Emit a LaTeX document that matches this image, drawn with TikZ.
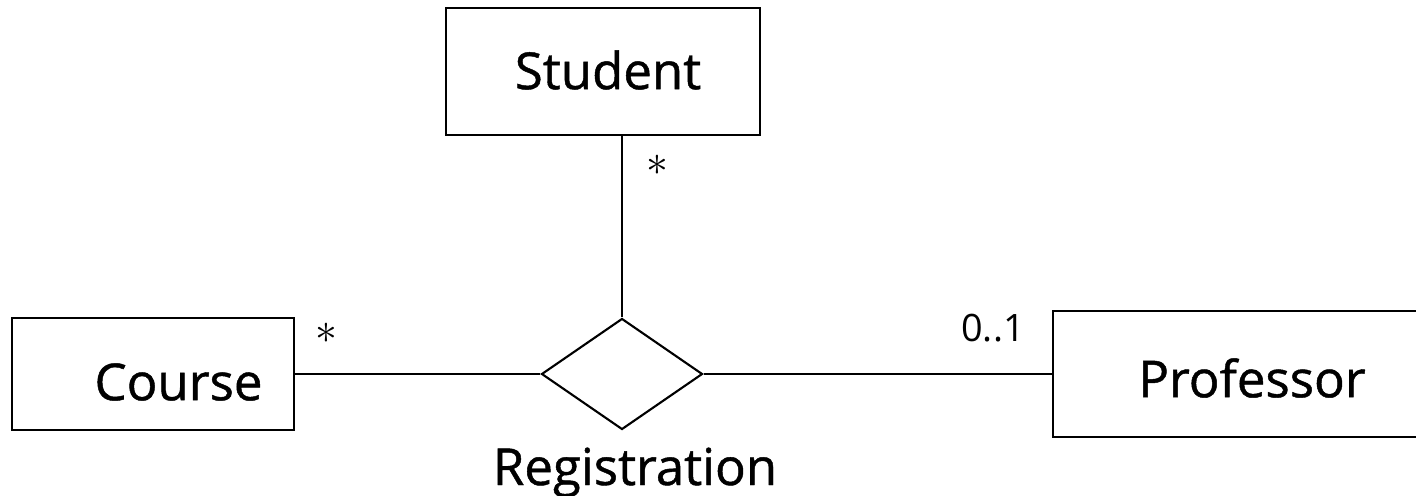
\documentclass[tikz,border=0pt]{standalone}
\usepackage{fontspec}
\setmainfont{Open Sans}
\newfontfamily\heavyfont{Open Sans}[FakeBold=0.9]
\usetikzlibrary{shapes.geometric}

\begin{document}
\begin{tikzpicture}
\tikzstyle{entity} = [rectangle, draw=black, line width=1.2pt, inner sep=0pt]
\tikzstyle{relation} = [diamond, draw=black, line width=1.2pt, inner sep=0pt]
\tikzstyle{edge} = [draw=black, line width=1.1pt]
\tikzstyle{titletext} = [font=\heavyfont\fontsize{29}{34}\selectfont]
\tikzstyle{multtext} = [font=\fontsize{21.5}{26}\selectfont]
\tikzstyle{startext} = [font=\fontsize{24}{30}\selectfont]

\useasboundingbox (0,0) rectangle (28.32,9.9);
\clip (0,0) rectangle (28.32,9.9);

\node[entity, minimum width=6.28cm, minimum height=2.54cm] (student) at (12.06,8.47) {};
\node[entity, minimum width=5.64cm, minimum height=2.24cm] (course) at (3.06,2.42) {};
\node[entity, minimum width=7.96cm, minimum height=2.52cm] (prof) at (25.04,2.42) {};
\node[relation, minimum width=3.22cm, minimum height=2.22cm] (reg) at (12.44,2.42) {};

\node[titletext] (studentname) at (12.16,8.5) {Student};
\node[titletext] (coursename) at (3.57,2.26) {Course};
\node[titletext] (profname) at (25.04,2.34) {Professor};
\node[titletext, anchor=base] (regname) at (12.7,0.2) {Registration};

\draw[edge] (reg.north) -- (reg.north |- student.south);
\draw[edge] (course.east) -- (reg.west);
\draw[edge] (reg.east) -- (prof.west);

\node[startext] (studentmult) at (13.14,6.6) {$\ast$};
\node[startext] (coursemult) at (6.52,3.24) {$\ast$};
\node[multtext] (profmult) at (19.86,3.34) {0..1};
\end{tikzpicture}
\end{document}
